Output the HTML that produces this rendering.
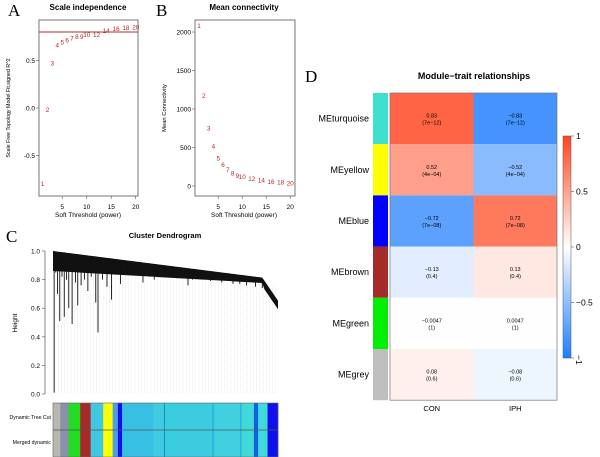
<!DOCTYPE html>
<html><head><meta charset="utf-8">
<style>
html,body{margin:0;padding:0;background:#fff;}
svg{display:block;font-family:"Liberation Sans",Arial,sans-serif;}
</style></head>
<body>
<svg id="fig" width="600" height="457" viewBox="0 0 600 457" xmlns="http://www.w3.org/2000/svg"></svg>
<script>
// ---- Panel A / B data ----
const powers = [1,2,3,4,5,6,7,8,9,10,12,14,16,18,20];
const scaleFitR2 = [-0.80,-0.02,0.47,0.66,0.69,0.71,0.73,0.75,0.75,0.77,0.77,0.81,0.83,0.84,0.85];
const meanConn = [2080,1170,750,510,360,270,210,160,130,115,90,70,55,45,35];
const aTicksY = [-0.5,0.0,0.5];
const aTickLabelsY = ["-0.5","0.0","0.5"];
const xTicks = [5,10,15,20];
const bTicksY = [0,500,1000,1500,2000];
const r2Cutoff = 0.80;
// ---- Panel C data ----
const dendroTicks = [0,0.2,0.4,0.6,0.8,1.0];
const dendroDrops = [[0.005,0.01],[0.012,0.85],[0.02,0.7],[0.03,0.51],[0.04,0.82],[0.05,0.54],[0.06,0.8],[0.07,0.6],[0.085,0.49],[0.1,0.78],[0.11,0.62],[0.125,0.76],[0.14,0.8],[0.155,0.72],[0.17,0.82],[0.19,0.64],[0.2,0.43],[0.22,0.8],[0.24,0.75],[0.26,0.66],[0.28,0.84],[0.3,0.77],[0.33,0.84],[0.36,0.83],[0.4,0.78],[0.43,0.82],[0.45,0.8],[0.5,0.83],[0.55,0.81],[0.6,0.76],[0.62,0.8],[0.66,0.8],[0.7,0.79],[0.75,0.78],[0.8,0.77],[0.83,0.77],[0.86,0.76],[0.9,0.75],[0.93,0.74],[0.96,0.69],[0.99,0.63]];
const moduleColors = ["#b8b8b0","#8a90a8","#22dd22","#a52a2a","#40c8e0","#ffff00","#4aa0e0","#1010ee","#38c0e4","#40ccdf","#1090d0","#3cccdf","#2ab8e0","#40d0e0","#20a8e0","#40d8d8","#1060e0","#40d8d8","#1010ee"];
const moduleWidths = [7,8,11,10,12,9,5,4,30,10,1,45,2,25,1,12,4,9,10];
// ---- Panel D data ----
const modules = ["MEturquoise","MEyellow","MEblue","MEbrown","MEgreen","MEgrey"];
const modColor = ["#40e0d0","#ffff00","#0000ff","#a52a2a","#00ee00","#bebebe"];
const traits = ["CON","IPH"];
const corCON = [0.83,0.52,-0.72,-0.13,-0.0047,0.08];
const corIPH = [-0.83,-0.52,0.72,0.13,0.0047,-0.08];
const pvals = ["7e-12","4e-04","7e-08","0.4","1","0.6"];
const legendTicks = [1,0.5,0,-0.5,-1];

const NS="http://www.w3.org/2000/svg";
const svgRoot=document.getElementById('fig');
function mk(tag,attrs,parent){const e=document.createElementNS(NS,tag);for(const k in attrs)e.setAttribute(k,attrs[k]);(parent||svgRoot).appendChild(e);return e;}
function txt(s,x,y,size,attrs,parent){const t=mk('text',Object.assign({x:x,y:y,'font-size':size},attrs||{}),parent);t.textContent=s;return t;}

// ===== Panel A =====
const gA=mk('g',{});


const axA={x:p=>42.6+(p-1)*4.9,y:v=>108-v*95};
mk('rect',{x:39,y:20,width:99,height:176,fill:'none',stroke:'#555','stroke-width':0.8},gA);
txt('A',8,16,17,{'font-family':'Liberation Serif,serif'},gA);
txt('Scale independence',88,10,8,{'font-weight':'bold','text-anchor':'middle'},gA);
const cutA=mk('line',{x1:39,x2:138,y1:axA.y(r2Cutoff),y2:axA.y(r2Cutoff),stroke:'#a33','stroke-width':1},gA);


aTicksY.forEach((v,i)=>{mk('line',{x1:36,x2:39,y1:axA.y(v),y2:axA.y(v),stroke:'#555','stroke-width':0.6},gA);
 txt(aTickLabelsY[i],35,axA.y(v)+2.5,6.5,{'text-anchor':'end'},gA);});
xTicks.forEach(v=>{mk('line',{x1:axA.x(v),x2:axA.x(v),y1:196,y2:199,stroke:'#555','stroke-width':0.6},gA);
 txt(String(v),axA.x(v),209,6.5,{'text-anchor':'middle'},gA);});
txt('Soft Threshold (power)',88,217,6.5,{'text-anchor':'middle'},gA);
txt('Scale Free Topology Model Fit,signed R^2',0,0,5.3,{'text-anchor':'middle',transform:'translate(10,108) rotate(-90)'},gA);
powers.forEach((p,i)=>{const t=txt(String(p),axA.x(p),axA.y(scaleFitR2[i])+2,6.3,{'text-anchor':'middle',fill:'#b22'},gA);
 
 });

// ===== Panel B =====
const gB=mk('g',{});


const axB={x:p=>199+(p-1)*4.8,y:v=>186-v*0.077};
mk('rect',{x:195,y:20,width:100,height:176,fill:'none',stroke:'#555','stroke-width':0.8},gB);
txt('B',156,16,17,{'font-family':'Liberation Serif,serif'},gB);
txt('Mean connectivity',244,10,8,{'font-weight':'bold','text-anchor':'middle'},gB);
bTicksY.forEach(v=>{mk('line',{x1:192,x2:195,y1:axB.y(v),y2:axB.y(v),stroke:'#555','stroke-width':0.6},gB);
 txt(String(v),191,axB.y(v)+2.5,6.5,{'text-anchor':'end'},gB);});
xTicks.forEach(v=>{mk('line',{x1:axB.x(v),x2:axB.x(v),y1:196,y2:199,stroke:'#555','stroke-width':0.6},gB);
 txt(String(v),axB.x(v),209,6.5,{'text-anchor':'middle'},gB);});
txt('Soft Threshold (power)',244,217,6.5,{'text-anchor':'middle'},gB);
txt('Mean Connectivity',0,0,5.8,{'text-anchor':'middle',transform:'translate(166,108) rotate(-90)'},gB);
powers.forEach((p,i)=>{const t=txt(String(p),axB.x(p),axB.y(meanConn[i])+2,6.3,{'text-anchor':'middle',fill:'#b22'},gB);
 
 });

// ===== Panel C =====
const gC=mk('g',{});


const cx0=53,cx1=278;
const axC={x:f=>cx0+f*(cx1-cx0),y:h=>394-h*143};
txt('C',6,242,17,{'font-family':'Liberation Serif,serif'},gC);
txt('Cluster Dendrogram',165,238,7.5,{'font-weight':'bold','text-anchor':'middle'},gC);
mk('line',{x1:45,x2:45,y1:axC.y(0),y2:axC.y(1),stroke:'#555','stroke-width':0.7},gC);
dendroTicks.forEach(v=>{mk('line',{x1:42,x2:45,y1:axC.y(v),y2:axC.y(v),stroke:'#555','stroke-width':0.6},gC);
 txt(v.toFixed(1),40,axC.y(v)+2.5,6.5,{'text-anchor':'end'},gC);});
txt('Height',0,0,6.5,{'text-anchor':'middle',transform:'translate(17,323) rotate(-90)'},gC);
for(let lx=cx0+2;lx<cx1;lx+=3.2){mk('line',{x1:lx,x2:lx,y1:axC.y(0.95-0.2*(lx-cx0)/(cx1-cx0)),y2:394,stroke:'#ccc','stroke-width':0.4,'stroke-dasharray':'1,1'},gC);}
function envF(f){return f<0.93?1.0-0.2*f:0.814-(f-0.93)*2.3;}
function thickF(f){return f>0.93?0.06:0.11*(1-f)+0.03;}
let envTop='',envBot='';
for(let i=0;i<=100;i++){const f=i/100;envTop+=(i?'L':'M')+axC.x(f)+','+axC.y(envF(f));}
for(let i=100;i>=0;i--){const f=i/100;envBot+='L'+axC.x(f)+','+axC.y(envF(f)-thickF(f));}
const band=mk('path',{d:envTop+envBot+'Z',fill:'#111'},gC);


dendroDrops.forEach((d,i)=>{const l=mk('line',{x1:axC.x(d[0]),x2:axC.x(d[0]),y1:axC.y(envF(d[0])-0.01),y2:axC.y(d[1]),stroke:'#111','stroke-width':0.9},gC);
 
 });
let stripX=cx0;const totalW=moduleWidths.reduce((a,b)=>a+b,0);
moduleColors.forEach((c,i)=>{const w=moduleWidths[i]*(cx1-cx0)/totalW;
 const r=mk('rect',{x:stripX,y:403,width:w+0.3,height:54,fill:c},gC);
 
 stripX+=w;});
mk('rect',{x:cx0,y:403,width:cx1-cx0,height:54,fill:'none',stroke:'#666','stroke-width':0.6},gC);
mk('line',{x1:cx0,x2:cx1,y1:430,y2:430,stroke:'#555','stroke-width':0.8},gC);
txt('Dynamic Tree Cut',51,419,5.2,{'text-anchor':'end'},gC);
txt('Merged dynamic',51,444,5.2,{'text-anchor':'end'},gC);

// ===== Panel D =====
const gD=mk('g',{});


function heatCol(v){const a=Math.min(1,Math.abs(v));
 if(v>=0) return 'rgb(255,'+Math.round(255-186*a)+','+Math.round(255-225*a)+')';
 return 'rgb('+Math.round(255-225*a)+','+Math.round(255-130*a)+',255)';}
const hx0=390,hx1=557,hy0=93,rh=51.2,cw=(hx1-hx0)/2;
txt('D',305,82,17,{'font-family':'Liberation Serif,serif'},gD);
txt('Module\u2212trait relationships',474,79,9,{'font-weight':'bold','text-anchor':'middle'},gD);
const cors=[corCON,corIPH];
modules.forEach((m,i)=>{const y=hy0+i*rh;
 const s=mk('rect',{x:373,y:y,width:15,height:rh,fill:modColor[i]},gD);
 
 
 const lab=txt(m,369,y+rh/2+3,9,{'text-anchor':'end'},gD);
 
 
 cors.forEach((arr,j)=>{const c=mk('rect',{x:hx0+j*cw,y:y,width:cw,height:rh,fill:heatCol(arr[i])},gD);
  
  
  txt(String(arr[i]).replace('-','\u2212'),hx0+j*cw+cw/2,y+rh/2-1,5.5,{'text-anchor':'middle'},gD);
  txt('('+pvals[i].replace('-','\u2212')+')',hx0+j*cw+cw/2,y+rh/2+6,5.5,{'text-anchor':'middle'},gD);});});
mk('rect',{x:hx0,y:hy0,width:hx1-hx0,height:rh*6,fill:'none',stroke:'#777','stroke-width':0.7},gD);
traits.forEach((t,j)=>{const tl=txt(t,hx0+j*cw+cw/2,411,7.5,{'text-anchor':'middle'},gD);
 
 });
const ly0=136,ly1=358;
const defs=mk('defs',{});
const grad=mk('linearGradient',{id:'lg',x1:0,y1:0,x2:0,y2:1},defs);
[1,0.5,0,-0.5,-1].forEach((v,i)=>mk('stop',{offset:i/4,'stop-color':heatCol(v)},grad));
const lgb=mk('rect',{x:563,y:ly0,width:8,height:ly1-ly0,fill:'url(#lg)',stroke:'#555','stroke-width':0.5},gD);


legendTicks.forEach(v=>{const y=ly0+(1-v)/2*(ly1-ly0);
 mk('line',{x1:571,x2:574,y1:y,y2:y,stroke:'#555','stroke-width':0.6},gD);
 if(v===-1) txt('\u22121',0,0,8.5,{transform:'translate(576,'+(y-3)+') rotate(90)'},gD);
 else txt(v===0?'0':(v<0?'\u2212':'')+Math.abs(v),576,y+3,8.5,{},gD);});
</script>
</body></html>
